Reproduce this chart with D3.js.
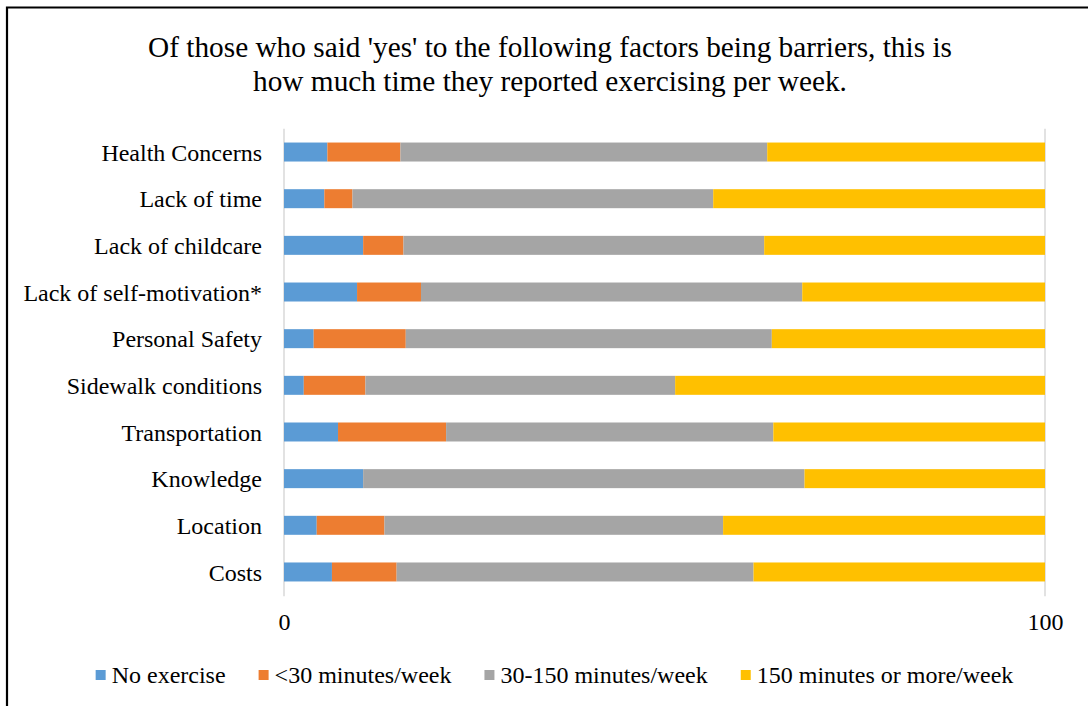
<!DOCTYPE html>
<html>
<head>
<meta charset="utf-8">
<script src="https://cdn.jsdelivr.net/npm/d3@7"></script>
<style>
  html, body { margin: 0; padding: 0; background: #fff; }
  svg { display: block; }
  text { font-family: "Liberation Serif", "Times New Roman", serif; fill: #000; }
</style>
</head>
<body>
<svg id="chart" width="1088" height="706"></svg>
<script>
// Barriers reported, top to bottom
const categories = [
  "Health Concerns", "Lack of time", "Lack of childcare", "Lack of self-motivation*",
  "Personal Safety", "Sidewalk conditions", "Transportation", "Knowledge",
  "Location ", "Costs"
];

// Share of respondents (%) in each weekly exercise bracket
const noExercise   = [5.7, 5.3, 10.4, 9.6, 3.9, 2.6, 7.1, 10.4, 4.3, 6.3];
const under30      = [9.6, 3.7, 5.3, 8.4, 12.1, 8.1, 14.2, 0.0, 8.9, 8.5];
const from30to150  = [48.2, 47.4, 47.4, 50.1, 48.1, 40.7, 43.0, 58.0, 44.5, 46.9];
const over150      = [36.5, 43.6, 36.9, 31.9, 35.9, 48.6, 35.7, 31.6, 42.3, 38.3];

const seriesNames = ["No exercise", "<30 minutes/week", "30-150 minutes/week", "150 minutes or more/week"];
const seriesColors = ["#5B9BD5", "#ED7D31", "#A5A5A5", "#FFC000"];
const xTicks = [0, 100];

const titleLines = [
  "Of those who said 'yes' to the following factors being barriers, this is",
  "how much time they reported exercising per week."
];

const svg = d3.select("#chart");
const W = 1088, H = 706;
const labelSize = "24px";

// frame (top and left edges visible)
svg.append("path")
  .attr("d", `M7,${H + 5} L7,7.5 L${W + 5},7.5`)
  .attr("fill", "none")
  .attr("stroke", "#000")
  .attr("stroke-width", 2.2);

// title
svg.append("g").selectAll("text")
  .data(titleLines)
  .join("text")
  .attr("x", 550)
  .attr("y", (d, i) => 57 + i * 34)
  .attr("text-anchor", "middle")
  .style("font-size", "29.3px")
  .text(d => d);

const plot = { left: 284, right: 1045, top: 128.7, bottom: 595.3 };

const x = d3.scaleLinear().domain([0, 100]).range([plot.left, plot.right]);
const y = d3.scaleBand()
  .domain(categories)
  .range([plot.top, plot.bottom])
  .paddingInner(0.593)
  .paddingOuter(0.2965);

// rows for stacking
const rows = categories.map((c, i) => ({
  category: c,
  [seriesNames[0]]: noExercise[i],
  [seriesNames[1]]: under30[i],
  [seriesNames[2]]: from30to150[i],
  [seriesNames[3]]: over150[i]
}));
const stacked = d3.stack().keys(seriesNames)(rows);

// vertical gridlines at the tick values
svg.append("g").selectAll("line")
  .data(xTicks)
  .join("line")
  .attr("x1", d => x(d)).attr("x2", d => x(d))
  .attr("y1", plot.top).attr("y2", plot.bottom + 1)
  .attr("stroke", "#D9D9D9")
  .attr("stroke-width", 1.5);

// stacked bars
svg.append("g").selectAll("g")
  .data(stacked)
  .join("g")
  .attr("fill", (d, i) => seriesColors[i])
  .selectAll("rect")
  .data(d => d)
  .join("rect")
  .attr("x", d => x(d[0]))
  .attr("y", d => y(d.data.category))
  .attr("width", d => Math.max(0, x(d[1]) - x(d[0])))
  .attr("height", y.bandwidth());

// category axis
const yAxis = svg.append("g")
  .attr("transform", `translate(${plot.left},0)`)
  .call(d3.axisLeft(y).tickSize(0).tickPadding(22));
yAxis.select(".domain").remove();
yAxis.selectAll("text")
  .attr("font-family", null)
  .style("font-size", labelSize)
  .attr("dy", "0.36em");

// value axis
const xAxis = svg.append("g")
  .attr("transform", `translate(0,${plot.bottom})`)
  .call(d3.axisBottom(x).tickValues(xTicks).tickSize(0).tickPadding(18).tickFormat(d3.format("d")));
xAxis.select(".domain").remove();
xAxis.selectAll("text")
  .attr("font-family", null)
  .style("font-size", labelSize);

// legend, laid out from measured text widths and centred
const legend = svg.append("g");
const items = legend.selectAll("g")
  .data(seriesNames)
  .join("g");
items.append("rect")
  .attr("width", 10).attr("height", 10)
  .attr("y", -13)
  .attr("fill", (d, i) => seriesColors[i]);
items.append("text")
  .attr("x", 16)
  .style("font-size", labelSize)
  .text(d => d);

let cursor = 0;
const gap = 33;
items.each(function () {
  const g = d3.select(this);
  const w = 16 + g.select("text").node().getComputedTextLength();
  g.attr("transform", `translate(${cursor},0)`);
  cursor += w + gap;
});
const legendWidth = cursor - gap;
legend.attr("transform", `translate(${554.5 - legendWidth / 2},683)`);
</script>
</body>
</html>
